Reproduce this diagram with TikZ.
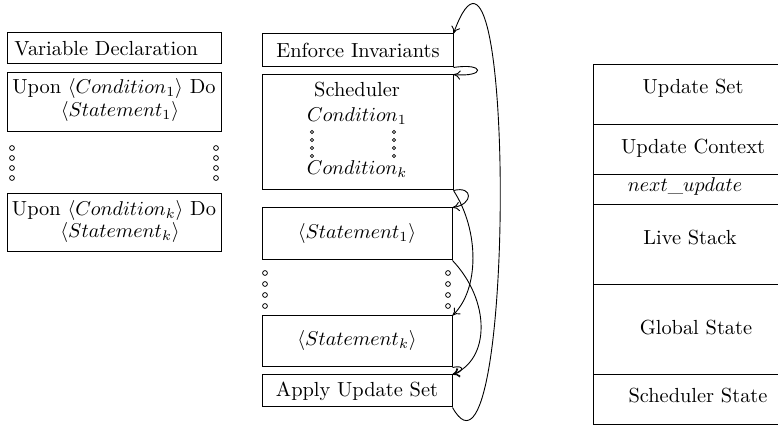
\documentclass[tikz,border=0pt]{standalone}
\usetikzlibrary{fit,arrows.meta}
\begin{document}
\begin{tikzpicture}[x=0.5pt,y=-0.5pt,
  font=\fontsize{10.2}{12}\selectfont,
  box/.style={draw, inner sep=0pt, line width=0.5pt},
  txt/.style={inner sep=0pt},
  ring/.style={draw, circle, inner sep=0pt, minimum size=2.4pt, line width=0.4pt},
  smallring/.style={draw, circle, inner sep=0pt, minimum size=1.6pt, line width=0.35pt},
  flow/.style={-{To[length=3.5pt,width=4.6pt]}, line width=0.45pt}]
\useasboundingbox (0,0) rectangle (778,427);

% ---- program text (left column) ----
\node[box, fit={(7,33) (221,64)}] (vd) {};
\node[txt, anchor=west] (vdt) at (14,48.5) {Variable Declaration};
\node[box, fit={(7,73) (221,132)}] (u1) {};
\node[txt] (u1a) at (114,89) {Upon $\langle Condition_1\rangle$ Do};
\node[txt] (u1b) at (120,112) {$\langle Statement_1\rangle$};
\node[box, fit={(7,194) (221,252)}] (uk) {};
\node[txt] (uka) at (114,211) {Upon $\langle Condition_k\rangle$ Do};
\node[txt] (ukb) at (120,233) {$\langle Statement_k\rangle$};
\foreach \yy [count=\i] in {148,158,168,178}{
  \node[ring] (la\i) at (12,\yy) {};
  \node[ring] (ra\i) at (216,\yy) {};
}

% ---- execution cycle (middle column) ----
\node[box, fit={(262,34) (453,67)}] (enf) {};
\node[txt] (enft) at (358,50) {Enforce Invariants};
\node[box, fit={(262,75) (453,190)}] (sch) {};
\node[txt] (scht) at (357,90) {Scheduler};
\node[txt] (sc1) at (357,116) {$Condition_1$};
\node[txt] (sck) at (357,169) {$Condition_k$};
\foreach \yy [count=\i] in {132,140,148,156}{
  \node[smallring] (sl\i) at (312,\yy) {};
  \node[smallring] (sr\i) at (394,\yy) {};
}
\node[box, fit={(262,208) (452,260)}] (st1) {};
\node[txt] (st1t) at (357,234) {$\langle Statement_1\rangle$};
\foreach \yy [count=\i] in {273,284,295,306}{
  \node[ring] (ml\i) at (265,\yy) {};
  \node[ring] (mr\i) at (448,\yy) {};
}
\node[box, fit={(262,316) (452,367)}] (stk) {};
\node[txt] (stkt) at (357,341) {$\langle Statement_k\rangle$};
\node[box, fit={(262,375) (452,407)}] (ap) {};
\node[txt] (apt) at (357,391) {Apply Update Set};

% ---- control flow ----
\draw[flow] (ap.south east) .. controls +(63,113) and +(63,-174) .. (enf.north east);
\draw[flow] (enf.south east) .. controls +(32,-5) and +(32,3) .. (sch.north east);
\draw[flow] (sch.south east) .. controls +(20,-5) and +(21,-3) .. (st1.north east);
\draw[flow] (sch.south east) .. controls +(26,40) and +(27,-26) .. (stk.north east);
\draw[flow] (st1.south east) .. controls +(38,40) and +(38,-15) .. (ap.north east);
\draw[flow] (stk.south east) .. controls +(12,-3) and +(12,-3) .. (ap.north east);

% ---- runtime memory layout (right column) ----
\node[box, fit={(593,65) (800,125)}] (us) {};
\node[box, fit={(593,125) (800,175)}] (uc) {};
\node[box, fit={(593,175) (800,205)}] (nu) {};
\node[box, fit={(593,205) (800,285)}] (ls) {};
\node[box, fit={(593,285) (800,375)}] (gs) {};
\node[box, fit={(593,375) (800,425)}] (ss) {};
\node[txt] (ust) at (693,88) {Update Set};
\node[txt] (uct) at (693,148) {Update Context};
\node[txt] (nut) at (685,187) {$next\_update$};
\node[txt] (lst) at (690,238) {Live Stack};
\node[txt] (gst) at (696,328) {Global State};
\node[txt] (sst) at (698,396) {Scheduler State};
\end{tikzpicture}
\end{document}
